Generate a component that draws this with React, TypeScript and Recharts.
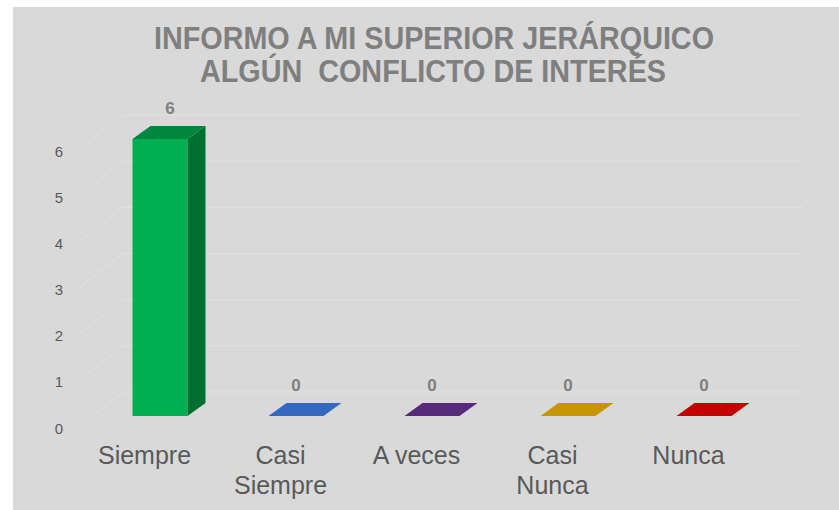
import { BarChart, Bar, XAxis, YAxis, CartesianGrid, LabelList } from 'recharts';

const categories = ['Siempre', 'Casi\nSiempre', 'A veces', 'Casi\nNunca', 'Nunca'];
const values = [6, 0, 0, 0, 0];
const yTicks = [0, 1, 2, 3, 4, 5, 6];

const frontColors = ['#00b050', '#3a70c4', '#5b2a80', '#c89800', '#c00000'];
const topColors = ['#00873d', '#3469c1', '#582a7b', '#c69500', '#c40202'];
const sideColors = ['#007030', '#24509a', '#401c5c', '#9a7400', '#900000'];

const rows = categories.map((name, i) => ({ name, value: values[i] }));

const DX = 18;
const DY = 13;
const FONT = '"Liberation Sans", Arial, sans-serif';

// fake 3D column: front face, right side, top face
function Bar3D(props: any) {
  const { x, y, width, height, index } = props;
  const i = index ?? 0;
  const h = Math.max(0, height || 0);
  return (
    <g>
      {h > 0 && <rect x={x} y={y} width={width} height={h} fill={frontColors[i]} />}
      {h > 0 && (
        <path
          d={`M${x + width},${y} L${x + width + DX},${y - DY} L${x + width + DX},${y + h - DY} L${x + width},${y + h} Z`}
          fill={sideColors[i]}
        />
      )}
      <path
        d={`M${x},${y} L${x + DX},${y - DY} L${x + width + DX},${y - DY} L${x + width},${y} Z`}
        fill={topColors[i]}
      />
    </g>
  );
}

// grid drawn as floor-to-wall perspective lines
function GridLine(props: any) {
  const { x1, x2, y1, index } = props;
  return (
    <path
      key={`g-${index}`}
      d={`M${x1 - 14.5},${y1 + 12} L${x1 + 31.5},${y1 - 24} L${x2 + 31.5},${y1 - 24}`}
      fill="none"
      stroke="#e2e2e2"
      strokeWidth={1}
    />
  );
}

function YTick(props: any) {
  const { x, y, payload } = props;
  return (
    <text x={x - 24.5} y={y + 17.5} textAnchor="middle" fill="#595959" fontSize={15} fontFamily={FONT}>
      {payload.value}
    </text>
  );
}

function XTick(props: any) {
  const { x, y, payload } = props;
  const lines = String(payload.value).split('\n');
  return (
    <text x={x - 15} y={y + 40} textAnchor="middle" fill="#595959" fontSize={25} fontFamily={FONT}>
      {lines.map((l, k) => (
        <tspan key={k} x={x - 15} dy={k === 0 ? 0 : 30}>
          {l}
        </tspan>
      ))}
    </text>
  );
}

function ValueLabel(props: any) {
  const { x, y, width, value } = props;
  return (
    <text
      x={x + width / 2 + (value > 0 ? DX / 2 + 1 : 0)}
      y={y - 25}
      textAnchor="middle"
      fill="#7f7f7f"
      fontSize={17}
      fontWeight="bold"
      fontFamily={FONT}
    >
      {value}
    </text>
  );
}

export default function App() {
  return (
    <div style={{ position: 'absolute', left: 0, top: 0, width: 839, height: 510, background: '#fff' }}>
      <div style={{ position: 'absolute', left: 13, top: 7, width: 826, height: 503, background: '#d9d9d9' }} />
      <svg width={839} height={100} style={{ position: 'absolute', left: 0, top: 0 }}>
        <text
          x={434}
          y={49}
          textAnchor="middle"
          fill="#7f7f7f"
          fontSize={31}
          fontWeight="bold"
          fontFamily={FONT}
          textLength={560}
          lengthAdjust="spacingAndGlyphs"
        >
          INFORMO A MI SUPERIOR JERÁRQUICO
        </text>
        <text
          x={433}
          y={82}
          textAnchor="middle"
          fill="#7f7f7f"
          fontSize={31}
          fontWeight="bold"
          fontFamily={FONT}
          textLength={466}
          lengthAdjust="spacingAndGlyphs"
          style={{ whiteSpace: 'pre' }}
        >
          {'ALGÚN  CONFLICTO DE INTERÉS'}
        </text>
      </svg>
      <div style={{ position: 'absolute', left: 0, top: 0 }}>
        <BarChart width={839} height={510} data={rows} margin={{ top: 139, right: 67.5, bottom: 0, left: 0 }}>
          <CartesianGrid vertical={false} horizontal={GridLine} />
          <XAxis dataKey="name" axisLine={false} tickLine={false} height={94} tick={XTick} interval={0} />
          <YAxis
            width={91.5}
            domain={[0, 6]}
            ticks={yTicks}
            axisLine={false}
            tickLine={false}
            tick={YTick}
          />
          <Bar dataKey="value" barSize={55} shape={Bar3D} isAnimationActive={false}>
            <LabelList dataKey="value" content={ValueLabel} />
          </Bar>
        </BarChart>
      </div>
    </div>
  );
}
